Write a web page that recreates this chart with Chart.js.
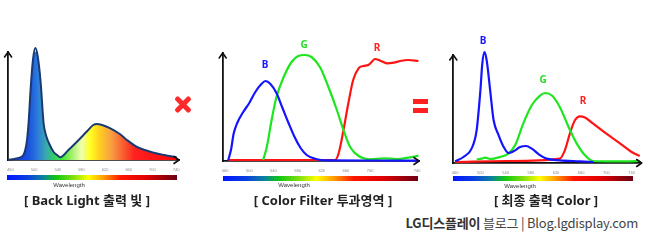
<!DOCTYPE html>
<html><head><meta charset="utf-8">
<script src="https://cdn.jsdelivr.net/npm/chart.js@4/dist/chart.umd.min.js"></script>
<style>
html,body{margin:0;padding:0;background:#fff;}
#wrap{position:relative;width:650px;height:240px;overflow:hidden;font-family:"Noto Sans","Noto Sans CJK KR",sans-serif;}
canvas{position:absolute;}
.bar{position:absolute;height:5px;background:linear-gradient(to right,#0015ff 0%,#0a40e0 12%,#0a80a0 21%,#10c810 29%,#80e010 39%,#ffff00 48%,#ff9a00 57%,#ff1500 67%,#e00000 82%,#6a0015 100%);}
.wl{position:absolute;font-family:"Liberation Sans",Arial,sans-serif;font-size:6px;color:#333;transform:translate(-50%,-50%);white-space:nowrap;}
.title{position:absolute;font-size:13px;font-weight:700;color:#222;transform:translate(-50%,-50%);white-space:nowrap;font-family:"Noto Sans","Noto Sans CJK KR",sans-serif;}
.lab{position:absolute;font-size:10px;font-weight:700;transform:translate(-50%,-50%);font-family:"Noto Sans",sans-serif;}
.xm{position:absolute;width:20px;height:5px;background:#ff2a2a;border-radius:2px;left:173px;top:101.5px;}
.eq{position:absolute;width:15px;height:5px;background:#ff2020;left:413px;}
#foot{position:absolute;right:12px;top:222px;transform:translateY(-50%);font-size:13px;color:#444;white-space:nowrap;font-family:"Noto Sans CJK KR",sans-serif;letter-spacing:-0.2px;}
#foot b{color:#333;}
</style></head>
<body><div id="wrap">
<canvas id="c1" width="200" height="150" style="left:0px;top:30px"></canvas>
<canvas id="c2" width="220" height="151" style="left:210px;top:30px"></canvas>
<canvas id="c3" width="210" height="153" style="left:440px;top:30px"></canvas>

<div class="xm" style="transform:rotate(45deg)"></div>
<div class="xm" style="transform:rotate(-45deg)"></div>
<div class="eq" style="top:99px"></div>
<div class="eq" style="top:108px"></div>

<div class="bar" style="left:7px;width:170px;top:175px"></div>
<div class="bar" style="left:223px;width:195px;top:175.5px"></div>
<div class="bar" style="left:453px;width:180px;top:176px"></div>
<div class="wl" style="left:69px;top:185px">Wavelength</div>
<div class="wl" style="left:294px;top:185px">Wavelength</div>
<div class="wl" style="left:520px;top:185.5px">Wavelength</div>
<div class="title" style="left:87px;top:199px">[ Back Light 출력 빛 ]</div>
<div class="title" style="left:323px;top:199px">[ Color Filter 투과영역 ]</div>
<div class="title" style="left:546px;top:199px">[ 최종 출력 Color ]</div>

<div class="lab" style="left:265px;top:64px;color:#1a1aff">B</div>
<div class="lab" style="left:304px;top:44px;color:#22dd22">G</div>
<div class="lab" style="left:377px;top:47px;color:#ff2020">R</div>
<div class="lab" style="left:483px;top:40px;color:#1a1aff">B</div>
<div class="lab" style="left:543px;top:79px;color:#22dd22">G</div>
<div class="lab" style="left:583px;top:100px;color:#ff2020">R</div>

<div id="foot"><b>LG디스플레이</b> 블로그 | Blog.lgdisplay.com</div>
</div>
<script>
// ---- data ----
const tickNm = [460, 500, 540, 580, 620, 660, 700, 740];

// Panel 1: back light spectrum
const backlightNm  = [456,470,478,482,485,488,491,494,498,502,506,511,516,520,525,533,539,544,558,572,590,600,606,615,629,645,657,674,690,702,720,741];
const backlightVal = [0,1.5,3,5,10,20,40,70,100,112,104,78,37,25,17,8,5,2.7,10,18,29,35,36,35,31.7,26,20,13,9.5,7.3,5,2.7];

// Panel 2: colour filter transmission
const filterBlueNm  = [465,470,474,480,490,500,510,520,527,535,545,555,565,575,585,595,610,630,700,780];
const filterBlueVal = [0.5,12,27,38,49,58,69,77,80,77,68,53,38,24,13,6,2,0.7,0.5,0.3];
const filterGreenNm  = [523,529,537,545,557,570,581,592,603,617,631,645,656,667,681,700,722,744,766,780];
const filterGreenVal = [1,14,41,64,84,99,105,106,104,94,74,51,31,14,5,1.7,2.7,2,3.7,5.3];
const filterRedNm  = [465,600,642,648,656,664,672,681,689,697,703,708,717,728,739,750,763,780];
const filterRedVal = [1,1,1,7.7,31,57.7,81,92.7,95,96,99.3,102,100.3,97.7,98.3,100,101,100];

// Panel 3: final output colour
const outBlueNm  = [460,473,486,494,500,503,506.5,510,515.5,521,529,537,544.5,552.5,563,572.5,581.5,595,605,626,658,679];
const outBlueVal = [1.7,6,14.4,32.7,72.7,99.4,111,102.7,72.7,42.7,27.7,16,10,11.7,16,17,14.4,7.7,4.4,2.7,1.7,1];
const outGreenNm  = [494,502,507.6,515.5,531,544.5,555,568,581.5,595,602.7,613,626,640,653,666,679,700,732,753];
const outGreenVal = [3.4,4.4,5.4,4,6,9.4,17.7,39.4,57.7,67.7,70,67.7,56,36,19.4,7.7,2,1.7,1.7,2];
const outRedNm  = [460,542,626,634,642,650,658,666,679,700,722,740,753];
const outRedVal = [1,2,4.4,12.7,29.4,42.7,46.7,45.4,39.4,29.4,19.4,11,7];

// ---- styles ----
const BLUE = '#1414ff', GREEN = '#1ee61e', RED = '#ff1414';
const fillStops = [[460,'#1030e0'],[490,'#1a50e0'],[505,'#2a78dc'],[520,'#38a8b0'],[535,'#30d060'],[548,'#40e830'],[565,'#a8f070'],[580,'#f0ffb0'],[595,'#ffff20'],[610,'#ffd020'],[630,'#f8a040'],[650,'#f86030'],[670,'#ff2020'],[740,'#ff0808']];

function pts(xs, ys){ return xs.map((x,i)=>({x:x, y:ys[i]})); }

const arrowPlugin = {
  id:'arrows',
  afterDraw(chart){
    const {left,right,top,bottom} = chart.chartArea;
    const c = chart.ctx;
    c.save();
    c.strokeStyle = '#111'; c.lineWidth = 1.6; c.lineCap='round'; c.lineJoin='round';
    c.beginPath();
    c.moveTo(left-3.5, top+5); c.lineTo(left, top); c.lineTo(left+3.5, top+5);
    c.moveTo(right-5, bottom-3.5); c.lineTo(right, bottom); c.lineTo(right-5, bottom+3.5);
    c.stroke();
    c.restore();
  }
};

function line(data, color){
  return {data, borderColor:color, borderWidth:2.2, pointRadius:0, fill:false,
          cubicInterpolationMode:'monotone', clip:false};
}

function makeChart(id, datasets, xMin, xMax, pad, stretchLast){
  return new Chart(document.getElementById(id), {
    type:'line',
    data:{datasets},
    options:{
      responsive:false, animation:false, devicePixelRatio:1,
      layout:{padding:pad},
      plugins:{legend:{display:false}, tooltip:{enabled:false}},
      scales:{
        x:{type:'linear', min:xMin, max:xMax,
           grid:{display:false, drawTicks:false},
           border:{display:true, color:'#111', width:1.8},
           ticks:{font:{size:4, family:'Liberation Sans'}, color:'#888', padding:7, maxRotation:0, autoSkip:false},
           afterBuildTicks:(s)=>{ s.ticks = tickNm.map((v,i)=>({value:(stretchLast && i===tickNm.length-1) ? xMax-3 : v, label:String(v)})); },
           afterTickToLabelConversion:(s)=>{ s.ticks.forEach((t,i)=>{ t.label = String(tickNm[i]); }); },
           afterFit:(s)=>{ s.height = 20; }
        },
        y:{min:0, max:108,
           grid:{display:false, drawTicks:false},
           border:{display:true, color:'#111', width:1.8},
           ticks:{display:false},
           afterFit:(s)=>{ s.width = 0; }
        }
      }
    },
    plugins:[arrowPlugin]
  });
}

// Panel 1
makeChart('c1', [{
  data: pts(backlightNm, backlightVal),
  borderColor:'#1a3a72', borderWidth:2, pointRadius:0, clip:false,
  cubicInterpolationMode:'monotone', fill:'origin',
  backgroundColor:(ctx)=>{
    const ch = ctx.chart; if(!ch.chartArea) return 'rgba(0,0,0,0)';
    const xs = ch.scales.x;
    const x0 = xs.getPixelForValue(460), x1 = xs.getPixelForValue(740);
    const g = ch.ctx.createLinearGradient(x0,0,x1,0);
    fillStops.forEach(([nm,col])=>g.addColorStop((nm-460)/280, col));
    return g;
  }
}], 456, 745, {left:8, right:21, top:22, bottom:0}, false);

// Panel 2
makeChart('c2', [
  line(pts(filterBlueNm, filterBlueVal), BLUE),
  line(pts(filterGreenNm, filterGreenVal), GREEN),
  line(pts(filterRedNm, filterRedVal), RED)
], 456, 781, {left:12.7, right:11, top:23, bottom:0}, true);

// Panel 3
makeChart('c3', [
  line(pts(outBlueNm, outBlueVal), BLUE),
  line(pts(outGreenNm, outGreenVal), GREEN),
  line(pts(outRedNm, outRedVal), RED)
], 457, 756, {left:13.3, right:8.3, top:25, bottom:0}, false);
</script>
</body></html>
